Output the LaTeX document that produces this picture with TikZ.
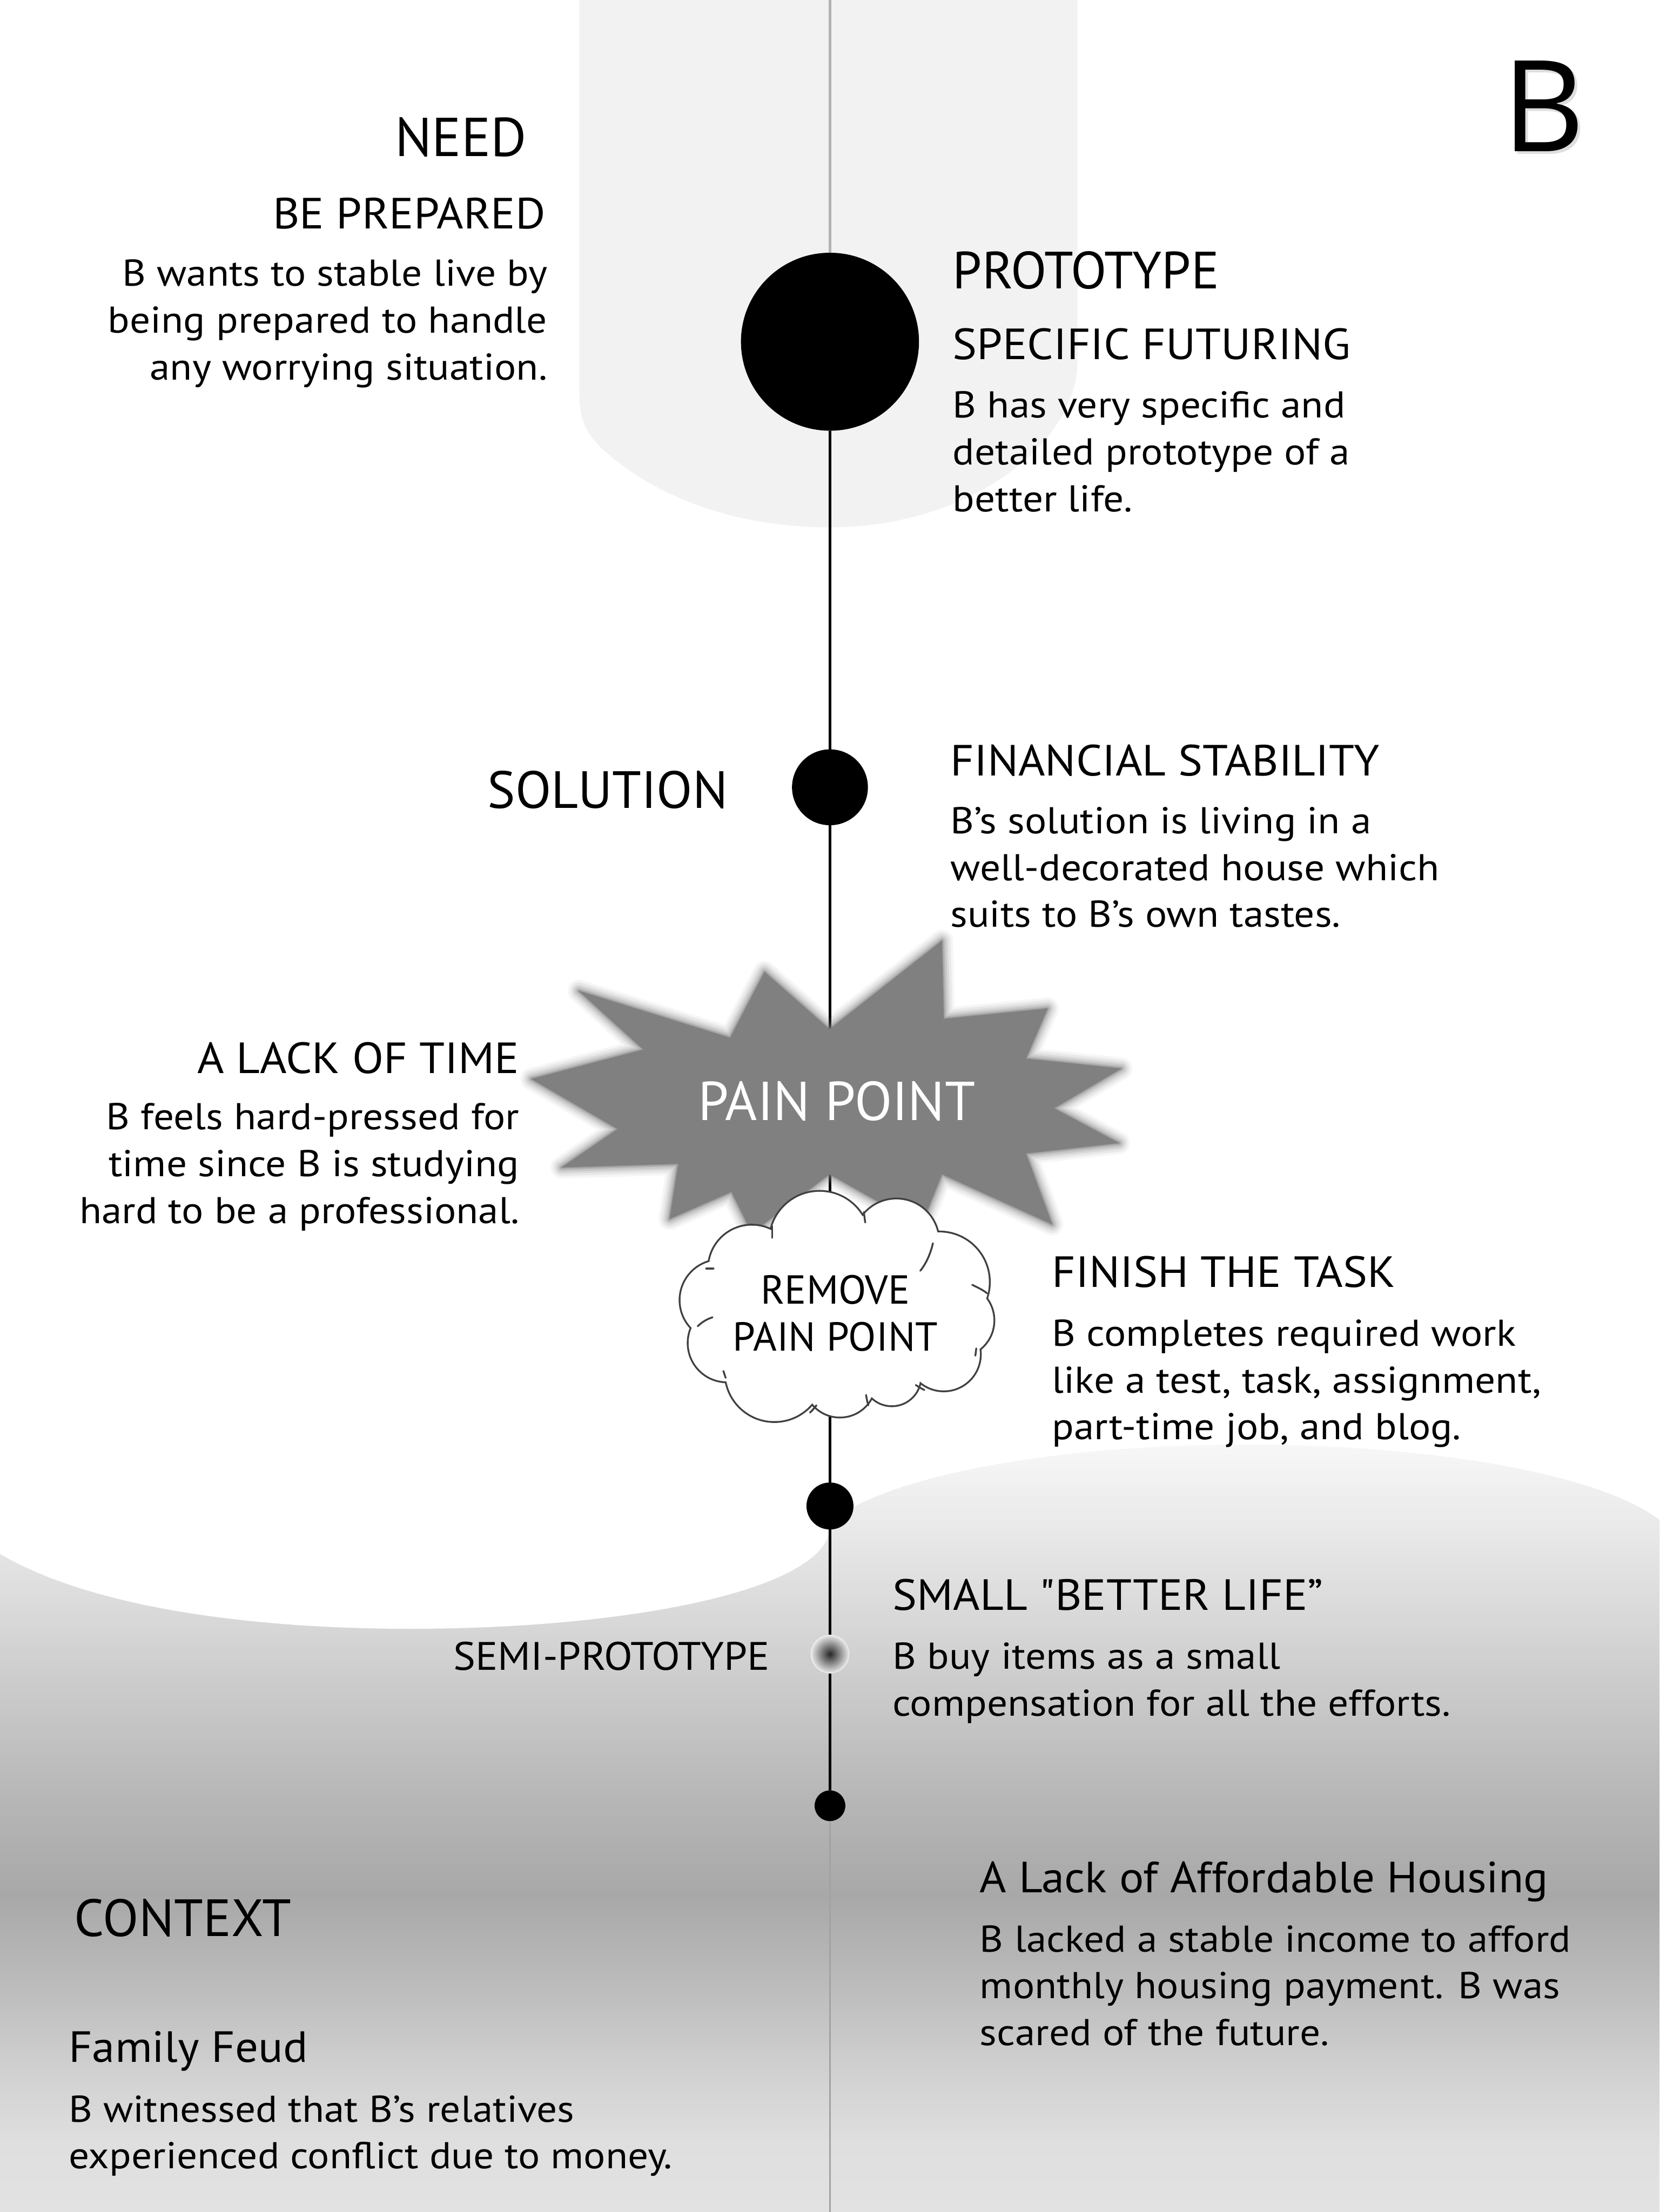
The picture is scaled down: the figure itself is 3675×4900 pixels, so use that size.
\documentclass[tikz,border=0pt]{standalone}
\usepackage{fontspec}
\setmainfont{PT Sans}
\newfontfamily\bigBfont{Open Sans}
\newfontfamily\bodyf[FakeStretch=1.09]{PT Sans}
\newfontfamily\subf[FakeStretch=1.05]{PT Sans}
\definecolor{panelgray}{HTML}{F2F2F2}
\definecolor{topline}{HTML}{B3B3B3}
\definecolor{starg}{HTML}{808080}
\definecolor{cloudline}{HTML}{404040}
\definecolor{tailline}{HTML}{A2A2A2}
\definecolor{ga}{HTML}{E2E2E2}
\definecolor{gb}{HTML}{DFDFDF}
\definecolor{gc}{HTML}{D2D2D2}
\definecolor{gd}{HTML}{BCBCBC}
\definecolor{ge}{HTML}{A8A8A8}
\definecolor{gf}{HTML}{B5B5B5}
\definecolor{gg}{HTML}{C6C6C6}
\definecolor{gh}{HTML}{D7D7D7}
\definecolor{gi}{HTML}{E8E8E8}
\definecolor{gj}{HTML}{FBFBFB}
\definecolor{sa}{HTML}{262626}
\definecolor{sb}{HTML}{4E4E4E}
\definecolor{sc}{HTML}{ABABAB}
\definecolor{sd}{HTML}{D8D8D8}
\definecolor{se}{HTML}{EBEBEB}
% path bounding box maps to 25bp..75bp
\pgfdeclareverticalshading{bggrad}{100bp}{color(0bp)=(ga); color(25bp)=(ga); color(29.3bp)=(gb); color(33.5bp)=(gc); color(39.3bp)=(gd); color(45bp)=(ge); color(50.7bp)=(gf); color(56.5bp)=(gg); color(62.2bp)=(gh); color(67.9bp)=(gi); color(75bp)=(gj); color(100bp)=(gj)}
\pgfdeclareradialshading{semidot}{\pgfpoint{0bp}{0bp}}{color(0bp)=(sa); color(5bp)=(sb); color(17bp)=(sc); color(23bp)=(sd); color(25bp)=(se); color(50bp)=(se)}
\begin{document}
\begin{tikzpicture}[x=0.01cm,y=-0.01cm,
  txt/.style={inner sep=0pt, outer sep=0pt, text=black},
  hone/.style={txt, font=\fontsize{33}{40}\selectfont},
  htwo/.style={txt, font=\subf\fontsize{27.5}{32}\selectfont},
  bodytxt/.style={txt, font=\bodyf\fontsize{23.5}{29.5}\selectfont},
  cloudtxt/.style={txt, font=\fontsize{25.5}{29.5}\selectfont},
  mainline/.style={line width=1.85pt, black},
  dot/.style={circle, fill=black, inner sep=0pt, outer sep=0pt},
  cloudw/.style={line width=1.15pt, cloudline, line cap=round}
]
\useasboundingbox (0,0) rectangle (3675,4900);
\fill[white] (0,0) rectangle (3675,4900);

% ---- bottom gradient background
\begin{scope}
  \clip (0,3370) rectangle (3675,4900);
  \shade[shading=bggrad] (0,3150) rectangle (3675,4900);
\end{scope}
\begin{scope}
  \clip (2760,3440) ellipse [x radius=960, y radius=240];
  \shade[shading=bggrad] (0,3150) rectangle (3675,4900);
\end{scope}
\fill[white] (0,3000) -- (0,3442) .. controls (200,3560) and (550,3608) .. (909,3608)
  .. controls (1400,3608) and (1838,3520) .. (1838,3380) -- (1838,3000) -- cycle;

% ---- top panel
\fill[panelgray] (1283,0) -- (1283,870) .. controls (1283,940) and (1300,975) .. (1391,1040)
  .. controls (1520,1130) and (1680,1168) .. (1838,1168)
  .. controls (2150,1168) and (2386,980) .. (2386,800) -- (2386,0) -- cycle;

% ---- timeline nodes
\coordinate (top) at (1838,0);
\coordinate (bot) at (1838,4900);
\node[dot, minimum size=3.94cm] (proto) at (1838,757) {};
\node[dot, minimum size=1.68cm] (sol) at (1838,1744) {};
\node[dot, minimum size=1.04cm] (fin) at (1838,3336) {};
\node[circle, inner sep=0pt, minimum size=0.84cm, shading=semidot, draw=se, line width=0.5pt] (semi) at (1838,3664) {};
\node[dot, minimum size=0.68cm] (ctx) at (1838,4000) {};

\draw[line width=2pt, topline] (top) -- (proto.north);
\draw[mainline] (proto.south) -- (sol.north);
\draw[mainline] (sol.south) -- (fin.north);
\draw[mainline] (fin.south) -- (semi.north);
\draw[mainline] (semi.south) -- (ctx.north);
\draw[line width=1pt, tailline] (ctx.south) -- (bot);

% ---- starburst (soft edged)
\def\starpts{(1282,2195) -- (1617,2299) -- (1693,2153) -- (1837,2280) -- (2086,2084) -- (2090,2257) -- (2320,2234) -- (2272,2345) -- (2483,2367) -- (2334,2455) -- (2478,2532) -- (2272,2555) -- (2330,2712) -- (2086,2601) -- (2040,2715) -- (1837,2601) -- (1665,2731) -- (1620,2640) -- (1483,2700) -- (1502,2578) -- (1244,2586) -- (1368,2501) -- (1177,2390) -- (1425,2325) -- cycle}
\foreach \w/\o in {14pt/0.07, 11pt/0.10, 8pt/0.14, 5.5pt/0.2, 3pt/0.3, 1.2pt/0.45}{
  \draw[starg, line width=\w, line join=round, opacity=\o] \starpts;
}
\fill[starg] \starpts;
\node[txt, font=\fontsize{34.5}{40}\selectfont, text=white, anchor=base] (pain) at (1853,2482) {PAIN POINT};

% ---- cloud
\def\cloudcircles{
  (1815,2750) circle[radius=110]
  (1985,2750) circle[radius=93]
  (2080,2840) circle[radius=110]
  (2120,2925) circle[radius=80]
  (2090,3000) circle[radius=80]
  (1975,3050) circle[radius=63]
  (1860,3060) circle[radius=78]
  (1715,3040) circle[radius=108]
  (1610,2975) circle[radius=85]
  (1595,2880) circle[radius=88]
  (1665,2810) circle[radius=95]}
\draw[cloudline, line width=2.3pt] \cloudcircles;
\fill[white] \cloudcircles;
\fill[white] (1855,2895) ellipse [x radius=230, y radius=170];
\draw[cloudw] (1710,2716) -- (1710,2742);
\draw[cloudw] (1913,2685) -- (1916,2708);
\draw[cloudw] (2066,2754) .. controls (2060,2780) and (2050,2800) .. (2038,2815);
\draw[cloudw] (2153,2846) .. controls (2165,2852) and (2178,2858) .. (2186,2865);
\draw[cloudw] (2162,2987) -- (2160,3003);
\draw[cloudw] (2028,3068) .. controls (2035,3073) and (2041,3076) .. (2047,3079);
\draw[cloudw] (1923,3113) .. controls (1920,3103) and (1919,3097) .. (1918,3090);
\draw[cloudw] (1808,3113) .. controls (1803,3120) and (1798,3125) .. (1794,3129);
\draw[cloudw] (1607,3052) -- (1602,3037);
\draw[cloudw] (1545,2938) .. controls (1555,2928) and (1566,2922) .. (1578,2918);
\draw[cloudw] (1564,2810) -- (1580,2810);
\node[cloudtxt, anchor=base] (rem1) at (1850,2889) {REMOVE};
\node[cloudtxt, anchor=base] (rem2) at (1850,2993) {PAIN POINT};

% ---- big letter
\node[txt, font=\bigBfont\fontsize{80}{90}\selectfont, text=black!25, opacity=0.5, anchor=base] (Bsh) at (3424,342) {B};
\node[txt, font=\bigBfont\fontsize{80}{90}\selectfont, anchor=base] (Bl) at (3418,336) {B};

% ---- texts (multi-line nodes are anchored at their last baseline)
\node[txt, font=\fontsize{34.5}{40}\selectfont, anchor=base east] (need) at (1166,346) {NEED};
\node[htwo, anchor=base east] (needsub) at (1208,507) {BE PREPARED};
\node[bodytxt, anchor=base east, align=right] (needbody) at (1212,841) {B wants to stable live by\\being prepared to handle\\any worrying situation.};

\node[hone, anchor=base west] (prot) at (2110,640) {PROTOTYPE};
\node[htwo, anchor=base west] (protsub) at (2110,796) {SPECIFIC FUTURING};
\node[bodytxt, anchor=base west, align=left] (protbody) at (2110,1133) {B has very specific and\\detailed prototype of a\\better life.};

\node[hone, anchor=base east] (solt) at (1612,1790) {SOLUTION};
\node[htwo, anchor=base west] (solsub) at (2105,1718) {FINANCIAL STABILITY};
\node[bodytxt, anchor=base west, align=left] (solbody) at (2105,2054) {B’s solution is living in a\\well-decorated house which\\suits to B’s own tastes.};

\node[htwo, anchor=base east] (painsub) at (1150,2378) {A LACK OF TIME};
\node[bodytxt, anchor=base east, align=right] (painbody) at (1150,2710) {B feels hard-pressed for\\time since B is studying\\hard to be a professional.};

\node[htwo, anchor=base west] (finsub) at (2330,2851) {FINISH THE TASK};
\node[bodytxt, anchor=base west, align=left] (finbody) at (2330,3189) {B completes required work\\like a test, task, assignment,\\part-time job, and blog.};

\node[htwo, anchor=base west] (semisub) at (1977,3567) {SMALL "BETTER LIFE”};
\node[bodytxt, anchor=base west, align=left] (semibody) at (1977,3801) {B buy items as a small\\compensation for all the efforts.};
\node[txt, font=\subf\fontsize{25}{29.5}\selectfont, anchor=base east] (semit) at (1705,3699) {SEMI-PROTOTYPE};

\node[hone, anchor=base west] (ctxt) at (165,4289) {CONTEXT};
\node[htwo, anchor=base west] (ctxa) at (152,4568) {Family Feud};
\node[bodytxt, anchor=base west, align=left] (ctxabody) at (152,4804) {B witnessed that B’s relatives\\experienced conflict due to money.};
\node[htwo, anchor=base west] (ctxb) at (2170,4192) {A Lack of Affordable Housing};
\node[bodytxt, anchor=base west, align=left] (ctxbbody) at (2170,4531) {B lacked a stable income to afford\\monthly housing payment. B was\\scared of the future.};
\end{tikzpicture}
\end{document}
